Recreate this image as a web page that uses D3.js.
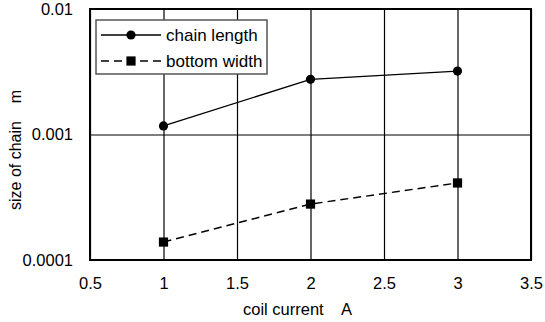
<!DOCTYPE html>
<html>
<head>
<meta charset="utf-8">
<script src="https://cdn.jsdelivr.net/npm/d3@7"></script>
<style>
  body { margin: 0; background: #fff; }
  svg { font-family: "Liberation Sans", Arial, sans-serif; }
  .axis path { display: none; }
  .axis line { stroke: #000; stroke-width: 1.2; }
  .axis text { font-size: 16.5px; fill: #000; }
</style>
</head>
<body>
<div id="chart"></div>
<script>
// values
const current = [1, 2, 3];
const chainLength = [0.00117, 0.00275, 0.0032];
const bottomWidth = [0.000139, 0.000279, 0.000411];
const xTicks = [0.5, 1, 1.5, 2, 2.5, 3, 3.5];
const yTicks = [0.0001, 0.001, 0.01];
const yTickLabels = ["0.0001", "0.001", "0.01"];

var margin = {top: 9, right: 14, bottom: 62, left: 90},
    width = 545 - margin.left - margin.right,
    height = 322 - margin.top - margin.bottom;

var svg = d3.select("#chart")
    .append("svg")
    .attr("width", 545)
    .attr("height", 322)
    .append("g")
    .attr("transform", `translate(${margin.left}, ${margin.top})`);

var x = d3.scaleLinear().domain([0.5, 3.5]).range([0, width]);
var y = d3.scaleLog().domain([0.0001, 0.01]).range([height, 0]);

// grid + labels
svg.append("g")
    .attr("class", "axis")
    .attr("transform", `translate(0, ${height})`)
    .call(d3.axisBottom(x).tickValues(xTicks).tickSizeInner(-height).tickSizeOuter(0)
        .tickPadding(17).tickFormat(d3.format("")))
    .selectAll("text").attr("dy", "0.71em");

svg.append("g")
    .attr("class", "axis")
    .call(d3.axisLeft(y).tickValues(yTicks).tickSizeInner(-width).tickSizeOuter(0)
        .tickPadding(17).tickFormat((d, i) => yTickLabels[i]));

// plot border
svg.append("rect")
    .attr("width", width)
    .attr("height", height)
    .attr("fill", "none")
    .attr("stroke", "#000")
    .attr("stroke-width", 2);

var line = d3.line()
    .x(d => x(d[0]))
    .y(d => y(d[1]));

const series = [
    {name: "chain length", values: chainLength, dash: null, marker: "circle"},
    {name: "bottom width", values: bottomWidth, dash: "8,5", marker: "square"}
];

function drawMarker(g, kind, cx, cy) {
    if (kind === "circle") {
        g.append("circle").attr("cx", cx).attr("cy", cy).attr("r", 4.6).attr("fill", "#000");
    } else {
        g.append("rect").attr("x", cx - 4.6).attr("y", cy - 4.6)
            .attr("width", 9.2).attr("height", 9.2).attr("fill", "#000");
    }
}

series.forEach(s => {
    var pts = current.map((c, i) => [c, s.values[i]]);
    svg.append("path")
        .datum(pts)
        .attr("d", line)
        .attr("fill", "none")
        .attr("stroke", "#000")
        .attr("stroke-width", 1.4)
        .attr("stroke-dasharray", s.dash);
    var mg = svg.append("g");
    pts.forEach(p => drawMarker(mg, s.marker, x(p[0]), y(p[1])));
});

// legend
var legend = svg.append("g").attr("transform", "translate(6, 11)");
legend.append("rect")
    .attr("width", 171)
    .attr("height", 54)
    .attr("fill", "#fff")
    .attr("stroke", "#555")
    .attr("stroke-width", 1.5);

series.forEach((s, i) => {
    var ly = 15 + i * 26;
    legend.append("line")
        .attr("x1", 5).attr("x2", 65)
        .attr("y1", ly).attr("y2", ly)
        .attr("stroke", "#000")
        .attr("stroke-width", 1.4)
        .attr("stroke-dasharray", s.dash);
    drawMarker(legend, s.marker, 35, ly);
    legend.append("text")
        .attr("x", 70)
        .attr("y", ly + 6)
        .attr("font-size", "17px")
        .text(s.name);
});

// axis titles
svg.append("text")
    .attr("x", 153)
    .attr("y", height + 55)
    .attr("font-size", "16.5px")
    .style("white-space", "pre")
    .text("coil current    A");

svg.append("text")
    .attr("transform", `translate(${-margin.left + 21}, ${210 - margin.top}) rotate(-90)`)
    .attr("font-size", "16px")
    .style("white-space", "pre")
    .text("size of chain    m");
</script>
</body>
</html>
